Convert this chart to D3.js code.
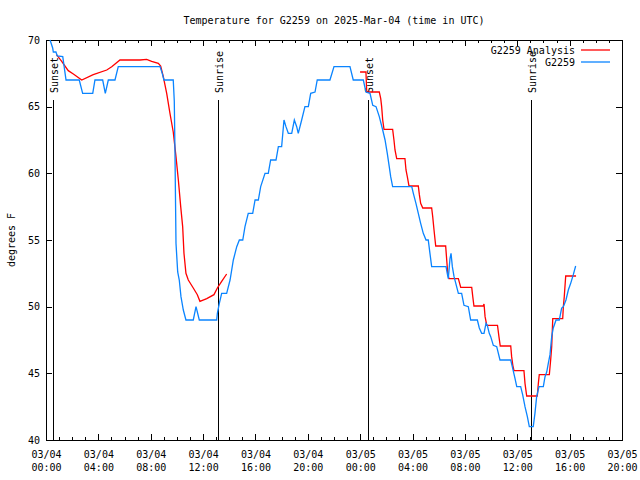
<!DOCTYPE html>
<html>
<head>
<meta charset="utf-8">
<script src="https://cdn.jsdelivr.net/npm/d3@7"></script>
<style>
  html, body { margin: 0; padding: 0; background: #fff; }
  svg { display: block; }
  text { font-family: "DejaVu Sans Mono", "Liberation Mono", monospace; font-size: 10px; fill: #000; }
</style>
</head>
<body>
<svg id="chart" width="640" height="480"></svg>
<script>
// ---------- data ----------
const chartTitle = "Temperature for G2259 on 2025-Mar-04 (time in UTC)";
const yLabel = "degrees F";
const startTime = "2025-03-04T00:00:00Z";
const spanHours = 44;
const yTicks = [40, 45, 50, 55, 60, 65, 70];

const seriesNames = ["G2259 Analysis", "G2259"];
const seriesColors = ["#ff0000", "#0a84ff"];

// observed station (hours since 03/04 00:00 UTC)
const obsHour = [0.31,0.51,0.56,0.76,0.86,1.28,1.53,2.54,2.80,3.57,
  3.74,4.33,4.53,4.76,5.27,5.52,8.71,8.88,9.01,9.72,
  9.80,9.85,9.93,10.06,10.18,10.31,10.49,10.69,11.25,11.46,
  11.71,13.04,13.09,13.24,13.42,13.80,14.06,14.31,14.57,14.77,
  15.03,15.20,15.45,15.79,15.97,16.22,16.40,16.73,16.98,17.16,
  17.57,17.75,18.00,18.18,18.33,18.51,18.77,18.97,19.15,19.27,
  19.53,19.78,20.04,20.22,20.55,20.72,21.69,22.00,23.22,23.47,
  24.24,24.44,24.75,24.96,25.21,25.46,25.72,25.90,26.07,26.22,
  26.33,26.48,27.94,28.06,28.26,28.44,28.62,28.82,29.03,29.20,
  29.33,29.46,30.56,30.65,30.73,30.86,30.94,31.04,31.17,31.50,
  31.75,31.93,32.26,32.44,32.95,33.10,33.28,33.46,33.61,33.71,
  33.86,33.97,34.17,34.43,34.68,35.50,35.62,35.83,35.96,36.26,
  36.41,36.59,36.77,36.92,37.22,37.35,37.48,37.66,37.99,38.12,
  38.25,38.37,38.50,38.63,38.75,38.96,39.21,39.39,39.52,39.72,
  39.90,40.08,40.28,40.46];
const obsTemp = [70,69.4,69.1,69.1,68.8,68.75,67,67,66,66,
  67,67,66,67,67,68,68,67.5,67,67,
  65.4,61.75,54.75,52.6,52,50.75,49.75,49,49,50,
  49,49,49.5,50.25,51,51,52,53.5,54.5,55,
  55,56,57,57,58,58,59,60,60,61,
  61,62,62,64,63.5,63,63,64,63.5,63,
  64,65,65,66,66.1,67,67,68,68,67,
  67,66.1,66,65.1,65,64.25,63.25,62.5,61.5,60.5,
  59.75,59,59,58.5,57.75,57,56.25,55.5,55,55,
  54,53,53,52.5,52.1,53.6,54,53,52.25,51,
  51,50.1,50,49,49,48.4,48,48,48.75,48.6,
  48,47.75,47.1,47,46,46,45.5,44.6,44,44,
  43.4,42.5,41.75,41,41,42,43.25,44,44,44.75,
  45.1,45.75,46.4,47.75,48.4,49,49,49.9,50,50.5,
  51.25,51.75,52.4,53.05];

// analysis (null = gap)
const anaHour = [0.8,1.20,1.70,2.09,2.73,3.61,4.64,5.02,5.65,7.18,
  7.69,8.07,8.58,8.76,8.96,9.22,9.47,9.72,9.93,10.11,
  10.29,10.44,10.54,10.69,10.87,11.25,11.56,11.76,12.28,12.83,
  13.09,13.42,13.80, 18.0,
  23.99,24.44,24.50,25.46,25.57,25.64,25.72,25.82,26.48,26.58,
  26.66,26.79,27.42,27.50,27.60,27.73,28.44,28.52,28.62,28.78,
  29.46,29.54,29.64,29.77,30.53,30.61,30.69,30.78,31.50,31.68,
  32.52,32.60,32.69,33.40,33.46,33.54,33.67,34.49,34.60,34.70,
  35.50,35.57,35.66,35.75,36.51,36.59,36.72,37.53,37.61,37.68,
  38.45,38.55,38.63,38.71,39.47,39.52,39.59,39.70,40.49];
const anaTemp = [68.9,68.4,67.7,67.45,67,67.4,67.75,68,68.5,68.5,
  68.55,68.4,68.25,68.05,67.25,66,64.5,63.1,61.25,59.5,
  57.5,56,54,52.5,52,51.4,50.9,50.4,50.6,50.9,
  51.4,51.9,52.45, null,
  67.6,67.6,66.1,66.1,65.6,65,64,63.3,63.3,62.5,
  61.75,61.1,61.1,60.25,59.75,59.05,59.05,58.4,57.75,57.4,
  57.4,56.75,55.75,54.55,54.55,53.5,52.5,52.1,52.1,51.45,
  51.45,50.75,50.05,50.05,50.2,49.25,48.6,48.6,47.75,47.05,
  47.05,46.25,45.6,45.2,45.2,44.25,43.3,43.3,44.25,44.9,
  44.9,46,47,49.1,49.1,50,50.75,52.3,52.3];

const eventLabels = ["Sunset", "Sunrise", "Sunset", "Sunrise"];
const eventHour = [0.53, 13.14, 24.6, 37.05];

// ---------- drawing ----------
const svg = d3.select("#chart");
const L = 46, R = 622, T = 40, B = 440;
const t0 = new Date(startTime);
const toDate = h => new Date(t0.getTime() + h * 3600e3);

const x = d3.scaleUtc().domain([t0, toDate(spanHours)]).range([L, R]);
const y = d3.scaleLinear().domain([40, 70]).range([B, T]);

// minor ticks
svg.append("g").attr("transform", `translate(0,${B})`)
  .call(d3.axisBottom(x).ticks(d3.utcHour.every(1)).tickSizeInner(-3).tickSizeOuter(0).tickFormat(""))
  .call(g => g.select(".domain").remove());
svg.append("g").attr("transform", `translate(0,${T})`)
  .call(d3.axisTop(x).ticks(d3.utcHour.every(1)).tickSizeInner(-3).tickSizeOuter(0).tickFormat(""))
  .call(g => g.select(".domain").remove());

// major x ticks
const fmtD = d3.utcFormat("%m/%d"), fmtT = d3.utcFormat("%H:%M");
const gx = svg.append("g").attr("transform", `translate(0,${B})`)
  .call(d3.axisBottom(x).ticks(d3.utcHour.every(4)).tickSizeInner(-6).tickSizeOuter(0).tickFormat(""))
  .call(g => g.select(".domain").remove());
gx.selectAll(".tick").each(function(d) {
  const t = d3.select(this).append("text").attr("text-anchor", "middle")
    .style("font-family", '"DejaVu Sans Mono", monospace').style("font-size", "10px");
  t.append("tspan").attr("x", 0).attr("y", 18).text(fmtD(d));
  t.append("tspan").attr("x", 0).attr("y", 31).text(fmtT(d));
});
svg.append("g").attr("transform", `translate(0,${T})`)
  .call(d3.axisTop(x).ticks(d3.utcHour.every(4)).tickSizeInner(-6).tickSizeOuter(0).tickFormat(""))
  .call(g => g.select(".domain").remove());

// y axes
svg.append("g").attr("transform", `translate(${L},0)`)
  .call(d3.axisLeft(y).tickValues(yTicks).tickSizeInner(-6).tickSizeOuter(0).tickPadding(6).tickFormat(d3.format("d")))
  .call(g => g.select(".domain").remove())
  .call(g => g.selectAll("text").style("font-family", '"DejaVu Sans Mono", monospace').style("font-size", "10px").attr("fill", "#000"));
svg.append("g").attr("transform", `translate(${R},0)`)
  .call(d3.axisRight(y).tickValues(yTicks).tickSizeInner(-6).tickSizeOuter(0).tickFormat(""))
  .call(g => g.select(".domain").remove());

svg.selectAll(".tick line").attr("stroke", "#000").attr("shape-rendering", "crispEdges");

// frame
svg.append("rect").attr("x", L).attr("y", T).attr("width", R - L).attr("height", B - T)
  .attr("fill", "none").attr("stroke", "#000").attr("shape-rendering", "crispEdges");

// event lines
eventHour.forEach((h, i) => {
  const xx = Math.round(x(toDate(h))) + 0.5;
  svg.append("line").attr("x1", xx).attr("x2", xx).attr("y1", 100).attr("y2", B)
    .attr("stroke", "#000").attr("stroke-width", 1);
  svg.append("text").attr("transform", `translate(${xx + 4},93) rotate(-90)`)
    .attr("text-anchor", "start").text(eventLabels[i]);
});

// series lines
const line = d3.line()
  .defined(d => d[1] !== null)
  .x(d => x(toDate(d[0])))
  .y(d => y(d[1]));

const anaData = anaHour.map((h, i) => [h, anaTemp[i]]);
const obsData = obsHour.map((h, i) => [h, obsTemp[i]]);

svg.append("path").datum(anaData).attr("d", line)
  .attr("fill", "none").attr("stroke", seriesColors[0]).attr("stroke-width", 1.3);
svg.append("path").datum(obsData).attr("d", line)
  .attr("fill", "none").attr("stroke", seriesColors[1]).attr("stroke-width", 1.3);

// legend
seriesNames.forEach((name, i) => {
  const yy = 50 + i * 12;
  svg.append("text").attr("x", 575).attr("y", yy + 4).attr("text-anchor", "end").text(name);
  svg.append("line").attr("x1", 581).attr("x2", 610).attr("y1", yy).attr("y2", yy)
    .attr("stroke", seriesColors[i]).attr("stroke-width", 1.3);
});

// title & y label
svg.append("text").attr("x", (L + R) / 2).attr("y", 24).attr("text-anchor", "middle").text(chartTitle);
svg.append("text").attr("transform", `translate(15,${(T + B) / 2}) rotate(-90)`)
  .attr("text-anchor", "middle").text(yLabel);
</script>
</body>
</html>
